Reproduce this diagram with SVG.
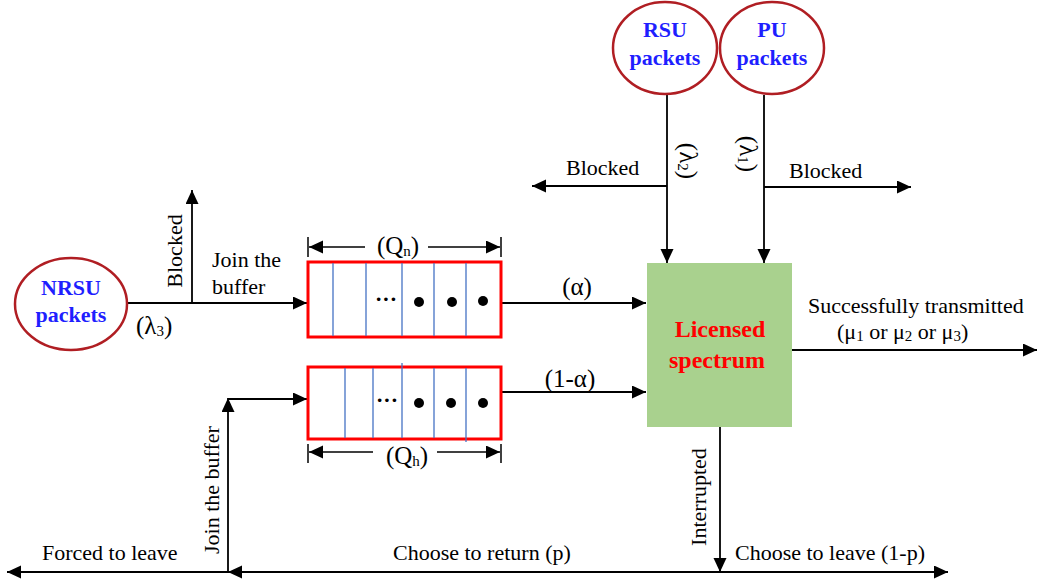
<svg xmlns="http://www.w3.org/2000/svg" width="1037" height="585" viewBox="0 0 1037 585">
<defs>
<marker id="ah" markerUnits="userSpaceOnUse" markerWidth="15" markerHeight="14" refX="14" refY="6.5" orient="auto-start-reverse">
<path d="M0,0 L14,6.5 L0,13 z" fill="#000"/>
</marker>
<style>
.ln{stroke:#000;stroke-width:1.8;fill:none}
.arr{marker-end:url(#ah)}
.dim{stroke:#000;stroke-width:1.5;fill:none}
.t{font-family:"Liberation Serif","Times New Roman",serif;font-size:22px;fill:#000}
.g{font-size:25px}
.src{fill:#fff;stroke:#b01e23;stroke-width:2.5}
.st{font-family:"Liberation Serif","Times New Roman",serif;font-size:22px;font-weight:bold;fill:#1f1fff;text-anchor:middle}
.q{fill:#fff;stroke:#ff0000;stroke-width:3}
.dv{stroke:#4472c4;stroke-width:1.3}
.sub{font-size:15px}
</style>
</defs>
<rect width="1037" height="585" fill="#fff"/>

<g id="connectors">
<line class="ln arr" x1="667" y1="95" x2="667" y2="263"/>
<line class="ln arr" x1="764" y1="95" x2="764" y2="263"/>
<line class="ln arr" x1="667" y1="186" x2="532" y2="186"/>
<line class="ln arr" x1="764" y1="187" x2="911" y2="187"/>
<line class="ln arr" x1="127" y1="303" x2="307" y2="303"/>
<line class="ln arr" x1="192" y1="303" x2="192" y2="190"/>
<line class="ln arr" x1="501" y1="303" x2="646" y2="303"/>
<line class="ln arr" x1="501" y1="392" x2="646" y2="392"/>
<line class="ln arr" x1="792" y1="350" x2="1037" y2="350"/>
<line class="ln arr" x1="720" y1="427" x2="720" y2="572"/>
<line class="ln arr" x1="720" y1="572" x2="948" y2="572"/>
<line class="ln arr" x1="720" y1="572" x2="228" y2="572"/>
<line class="ln arr" x1="228" y1="572" x2="7" y2="572"/>
<line class="ln arr" x1="228" y1="572" x2="228" y2="398"/>
<line class="ln arr" x1="228" y1="399" x2="307" y2="399"/>
<line class="dim" x1="308" y1="237" x2="308" y2="257"/>
<line class="dim" x1="501" y1="237" x2="501" y2="257"/>
<line class="dim arr" x1="365" y1="247" x2="309" y2="247"/>
<line class="dim arr" x1="428" y1="247" x2="500" y2="247"/>
<line class="dim" x1="308" y1="444" x2="308" y2="463"/>
<line class="dim" x1="501" y1="444" x2="501" y2="463"/>
<line class="dim arr" x1="373" y1="452" x2="309" y2="452"/>
<line class="dim arr" x1="437" y1="452" x2="500" y2="452"/>
</g>

<g id="rsu">
<ellipse class="src" cx="665" cy="48" rx="52" ry="46"/>
<text class="st" x="665" y="37">RSU</text>
<text class="st" x="665" y="65">packets</text>
</g>
<g id="pu">
<ellipse class="src" cx="772" cy="48" rx="52" ry="46"/>
<text class="st" x="772" y="37">PU</text>
<text class="st" x="772" y="65">packets</text>
</g>
<g id="nrsu">
<ellipse class="src" cx="71" cy="304" rx="56" ry="46"/>
<text class="st" x="71" y="295">NRSU</text>
<text class="st" x="71" y="322">packets</text>
</g>

<g id="spectrum">
<rect x="647" y="263" width="145" height="164" fill="#a9d18e"/>
<text x="720" y="337" font-family="'Liberation Serif','Times New Roman',serif" font-size="24" font-weight="bold" fill="#ff0000" text-anchor="middle">Licensed</text>
<text x="717" y="368" font-family="'Liberation Serif','Times New Roman',serif" font-size="24" font-weight="bold" fill="#ff0000" text-anchor="middle">spectrum</text>
</g>

<g id="queue-n">
<rect class="q" x="308" y="262" width="193" height="75"/>
<line class="dv" x1="333" y1="263" x2="333" y2="336"/>
<line class="dv" x1="366" y1="263" x2="366" y2="336"/>
<line class="dv" x1="402" y1="263" x2="402" y2="336"/>
<line class="dv" x1="434" y1="263" x2="434" y2="336"/>
<line class="dv" x1="466" y1="263" x2="466" y2="336"/>
<text class="t" x="386" y="306" text-anchor="middle" font-weight="bold">···</text>
<circle cx="419" cy="302" r="5"/>
<circle cx="452" cy="302" r="5"/>
<circle cx="483" cy="301" r="5"/>
<text class="t g" x="398" y="254" text-anchor="middle">(Q<tspan class="sub" dy="2">n</tspan><tspan dy="-2">)</tspan></text>
</g>

<g id="queue-h">
<rect class="q" x="308" y="367" width="193" height="72"/>
<line class="dv" x1="345" y1="368" x2="345" y2="438"/>
<line class="dv" x1="373" y1="368" x2="373" y2="438"/>
<line class="dv" x1="402" y1="363" x2="402" y2="438"/>
<line class="dv" x1="434" y1="368" x2="434" y2="438"/>
<line class="dv" x1="466" y1="368" x2="466" y2="442"/>
<text class="t" x="387" y="407" text-anchor="middle" font-weight="bold">···</text>
<circle cx="419" cy="403" r="5"/>
<circle cx="451" cy="403" r="5"/>
<circle cx="483" cy="403" r="5"/>
<text class="t g" x="407" y="464" text-anchor="middle">(Q<tspan class="sub" dy="2">h</tspan><tspan dy="-2">)</tspan></text>
</g>

<g id="labels">
<text class="t" x="566" y="175">Blocked</text>
<text class="t" x="789" y="178">Blocked</text>
<text class="t g" x="680" y="161" text-anchor="middle" transform="rotate(90 680 161)">(λ<tspan class="sub" dy="2">2</tspan><tspan dy="-2">)</tspan></text>
<text class="t g" x="740" y="154" text-anchor="middle" transform="rotate(90 740 154)">(λ<tspan class="sub" dy="2">1</tspan><tspan dy="-2">)</tspan></text>
<text class="t" x="182" y="251" text-anchor="middle" transform="rotate(-90 182 251)">Blocked</text>
<text class="t" x="212" y="267">Join the</text>
<text class="t" x="212" y="294">buffer</text>
<text class="t g" x="136" y="334">(λ<tspan class="sub" dy="2">3</tspan><tspan dy="-2">)</tspan></text>
<text class="t g" x="577" y="295" text-anchor="middle">(α)</text>
<text class="t g" x="570" y="387" text-anchor="middle">(1-α)</text>
<text class="t" x="808" y="313">Successfully transmitted</text>
<text class="t" x="837" y="339">(μ<tspan class="sub" dy="2">1</tspan><tspan dy="-2"> or μ</tspan><tspan class="sub" dy="2">2</tspan><tspan dy="-2"> or μ</tspan><tspan class="sub" dy="2">3</tspan><tspan dy="-2">)</tspan></text>
<text class="t" x="219" y="490" text-anchor="middle" transform="rotate(-90 219 490)">Join the buffer</text>
<text class="t" x="706" y="497" text-anchor="middle" transform="rotate(-90 706 497)">Interrupted</text>
<text class="t" x="42" y="560">Forced to leave</text>
<text class="t" x="393" y="560">Choose to return (p)</text>
<text class="t" x="735" y="560">Choose to leave (1-p)</text>
</g>
</svg>
